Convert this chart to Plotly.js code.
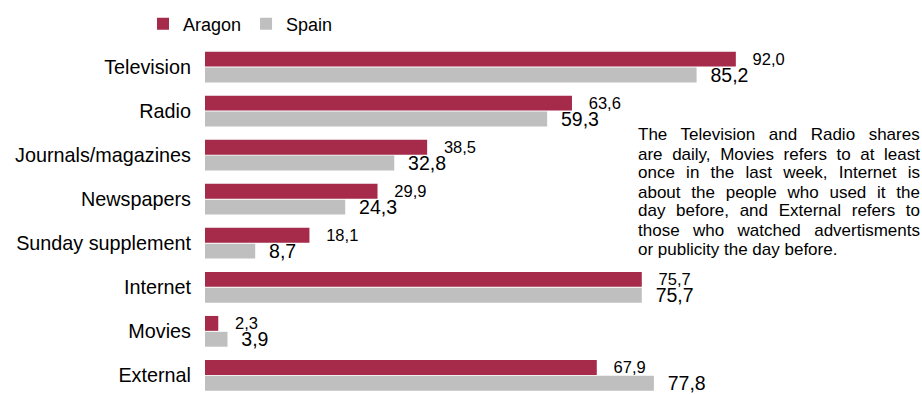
<!DOCTYPE html>
<html>
<head>
<meta charset="utf-8">
<script src="https://cdn.plot.ly/plotly-3.0.1.min.js"></script>
<style>html,body{margin:0;padding:0;background:#fff;}#chart{width:922px;height:394px;}</style>
</head>
<body>
<div id="chart"></div>
<script>
// ---- data ----
const categories = ["Television", "Radio", "Journals/magazines", "Newspapers", "Sunday supplement", "Internet", "Movies", "External"];
const aragon = [92.0, 63.6, 38.5, 29.9, 18.1, 75.7, 2.3, 67.9];
const spain  = [85.2, 59.3, 32.8, 24.3, 8.7, 75.7, 3.9, 77.8];
const seriesNames = ["Aragon", "Spain"];
const noteLines = [
  "The Television and Radio shares",
  "are daily, Movies refers to at least",
  "once in the last week, Internet is",
  "about the people who used it the",
  "day before, and External refers to",
  "those who watched advertisments",
  "or publicity the day before."
];

// ---- layout helpers ----
const W = 922, H = 394;
const M = {l: 205, r: 140, t: 45, b: 0};
const plotW = W - M.l - M.r, plotH = H - M.t - M.b;
const FONT = "Arial, 'Liberation Sans', sans-serif";
const fmt = v => v.toFixed(1).replace(".", ",");
const px2x = x => (x - M.l) / plotW;
const py2y = y => 1 - (y - M.t) / plotH;

const colors = ["#A62B4B", "#BFBFBF"];

const traces = [
  {
    type: "bar", orientation: "h", name: seriesNames[0],
    y: categories, x: aragon,
    marker: {color: colors[0]},
    text: aragon.map(v => "\u00A0\u00A0\u00A0" + fmt(v)),
    textposition: "outside", cliponaxis: false, constraintext: "none",
    textfont: {family: FONT, size: 16.5, color: "#000"},
    hoverinfo: "skip"
  },
  {
    type: "bar", orientation: "h", name: seriesNames[1],
    y: categories, x: spain,
    marker: {color: colors[1]},
    text: spain.map(v => "\u00A0\u00A0" + fmt(v)),
    textposition: "outside", cliponaxis: false, constraintext: "none",
    textfont: {family: FONT, size: 19.5, color: "#000"},
    hoverinfo: "skip"
  }
];

// justified note, one annotation per line
const noteFont = 17;
const noteLeft = 636, noteRight = 918, noteTop = 135, noteStep = 19;
const ctx = document.createElement("canvas").getContext("2d");
ctx.font = noteFont + "px 'Liberation Sans'";
const annotations = noteLines.map((line, i) => {
  let txt = line;
  if (i < noteLines.length - 1) {
    const nat = ctx.measureText(line).width;
    const spaces = (line.match(/ /g) || []).length;
    const ws = Math.max(0, ((noteRight - noteLeft) - nat) / spaces);
    txt = '<span style="word-spacing:' + ws.toFixed(2) + 'px">' + line + '</span>';
  }
  return {
    xref: "paper", yref: "paper",
    x: px2x(noteLeft), y: py2y(noteTop + i * noteStep),
    xanchor: "left", yanchor: "middle",
    text: txt, showarrow: false, align: "left",
    font: {family: FONT, size: noteFont, color: "#000"}
  };
});

const layout = {
  width: W, height: H,
  margin: M,
  paper_bgcolor: "#fff", plot_bgcolor: "#fff",
  font: {family: FONT, color: "#000"},
  barmode: "group", bargap: 0.28, bargroupgap: 0.06,
  showlegend: true,
  legend: {
    orientation: "h", traceorder: "normal",
    x: px2x(143), xanchor: "left",
    y: py2y(24), yanchor: "middle",
    font: {family: FONT, size: 18, color: "#000"},
    bgcolor: "rgba(0,0,0,0)"
  },
  xaxis: {
    range: [0, 100], visible: true, showticklabels: false,
    showgrid: false, zeroline: false, showline: false, ticks: ""
  },
  yaxis: {
    type: "category", range: [7.423, -0.5],
    showgrid: false, zeroline: false, showline: false, ticks: "",
    ticklabelstandoff: 13,
    tickfont: {family: FONT, size: 19.8, color: "#000"}
  },
  annotations: annotations
};

Plotly.newPlot("chart", traces, layout, {displayModeBar: false, staticPlot: true});
</script>
</body>
</html>
